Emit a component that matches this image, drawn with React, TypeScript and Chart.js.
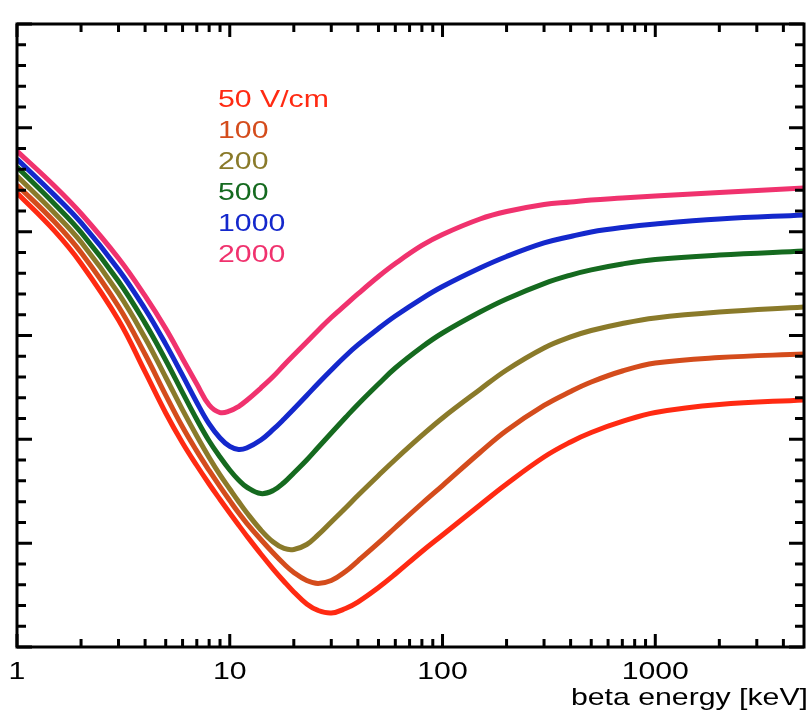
import { useEffect, useRef } from 'react';
import { Chart, registerables } from 'chart.js';

Chart.register(...registerables);

// beta energy [keV]
const energies = [1, 1.5, 2, 3, 4, 5, 6, 7, 8, 9, 10, 11, 12, 14, 16, 18, 20, 23, 26, 30, 35, 40, 50, 60, 80, 100, 150, 200, 300, 400, 500, 700, 1000, 2000, 5000];

// response (arbitrary units, no y labels on the original)
const field50 = [4.373, 4.007, 3.694, 3.149, 2.649, 2.254, 1.965, 1.748, 1.570, 1.421, 1.291, 1.175, 1.072, 0.896, 0.751, 0.631, 0.530, 0.414, 0.352, 0.327, 0.371, 0.433, 0.573, 0.703, 0.920, 1.079, 1.368, 1.570, 1.830, 1.975, 2.066, 2.172, 2.259, 2.336, 2.379];
const field100 = [4.450, 4.095, 3.799, 3.279, 2.819, 2.426, 2.118, 1.886, 1.700, 1.544, 1.410, 1.292, 1.194, 1.035, 0.905, 0.799, 0.718, 0.640, 0.612, 0.640, 0.727, 0.828, 1.002, 1.151, 1.382, 1.555, 1.873, 2.085, 2.326, 2.461, 2.552, 2.658, 2.735, 2.788, 2.822];
const field200 = [4.536, 4.180, 3.900, 3.405, 2.976, 2.598, 2.283, 2.032, 1.825, 1.657, 1.522, 1.401, 1.295, 1.127, 1.011, 0.949, 0.939, 0.987, 1.079, 1.204, 1.339, 1.459, 1.652, 1.806, 2.037, 2.206, 2.480, 2.668, 2.880, 2.986, 3.048, 3.116, 3.169, 3.226, 3.275];
const field500 = [4.623, 4.267, 3.993, 3.523, 3.119, 2.762, 2.450, 2.191, 1.984, 1.830, 1.705, 1.608, 1.541, 1.478, 1.507, 1.584, 1.676, 1.801, 1.921, 2.061, 2.210, 2.336, 2.533, 2.687, 2.889, 3.024, 3.226, 3.352, 3.500, 3.582, 3.632, 3.689, 3.732, 3.775, 3.814];
const field1000 = [4.700, 4.352, 4.086, 3.636, 3.255, 2.917, 2.616, 2.355, 2.148, 2.013, 1.931, 1.902, 1.917, 1.994, 2.095, 2.196, 2.292, 2.422, 2.538, 2.668, 2.803, 2.909, 3.068, 3.188, 3.356, 3.472, 3.650, 3.761, 3.891, 3.954, 3.997, 4.040, 4.074, 4.122, 4.161];
const field2000 = [4.777, 4.440, 4.175, 3.744, 3.381, 3.066, 2.777, 2.533, 2.331, 2.258, 2.273, 2.316, 2.374, 2.494, 2.605, 2.716, 2.812, 2.937, 3.048, 3.173, 3.294, 3.400, 3.568, 3.693, 3.867, 3.973, 4.122, 4.194, 4.262, 4.286, 4.305, 4.324, 4.344, 4.377, 4.421];

const seriesLabels = ['50 V/cm', '100', '200', '500', '1000', '2000'];
const seriesValues = [field50, field100, field200, field500, field1000, field2000];
const seriesColors = ['#ff2a12', '#d44c1c', '#8a7a2a', '#156a1f', '#1428cc', '#f0326e'];

const xMajorTicks = [1, 10, 100, 1000];
const xTickLabels = ['1', '10', '100', '1000'];
const xMinorTicks = [2, 3, 4, 5, 6, 7, 8, 9, 20, 30, 40, 50, 60, 70, 80, 90, 200, 300, 400, 500, 600, 700, 800, 900, 2000, 3000, 4000];
const yMajorTicks = [0, 1, 2, 3, 4, 5, 6];
const xTitle = 'beta energy [keV]';

const FONT = '24px "Liberation Sans", Arial, sans-serif';
const STRETCH = 1.26;

function stretchedText(ctx: CanvasRenderingContext2D, text: string, x: number, y: number, align: CanvasTextAlign, color: string) {
  ctx.save();
  ctx.translate(x, y);
  ctx.scale(STRETCH, 1);
  ctx.font = FONT;
  ctx.textAlign = align;
  ctx.textBaseline = 'alphabetic';
  ctx.fillStyle = color;
  ctx.fillText(text, 0, 0);
  ctx.restore();
}

const framePlugin = {
  id: 'frameTicksText',
  afterDatasetsDraw(chart: any) {
    const ctx: CanvasRenderingContext2D = chart.ctx;
    const { left, right, top, bottom } = chart.chartArea;
    const xs = chart.scales.x;
    const ys = chart.scales.y;
    ctx.save();
    ctx.strokeStyle = '#000';
    ctx.lineWidth = 3;
    ctx.lineCap = 'butt';
    ctx.beginPath();
    const xTick = (v: number, len: number) => {
      const px = xs.getPixelForValue(v);
      ctx.moveTo(px, bottom);
      ctx.lineTo(px, bottom - len);
      ctx.moveTo(px, top);
      ctx.lineTo(px, top + len);
    };
    xMajorTicks.forEach((v) => xTick(v, 13));
    xMinorTicks.forEach((v) => xTick(v, 8));
    const yMin = ys.min, yMax = ys.max;
    for (let i = 0; i <= Math.round((yMax - yMin) * 5); i++) {
      const v = yMin + i * 0.2;
      const major = yMajorTicks.some((m) => Math.abs(m - v) < 1e-6);
      const len = major ? 15 : 9;
      const py = ys.getPixelForValue(v);
      ctx.moveTo(left, py);
      ctx.lineTo(left + len, py);
      ctx.moveTo(right, py);
      ctx.lineTo(right - len, py);
    }
    ctx.stroke();
    ctx.strokeRect(left, top, right - left, bottom - top);

    xMajorTicks.forEach((v, i) => {
      stretchedText(ctx, xTickLabels[i], xs.getPixelForValue(v), bottom + 32, 'center', '#000');
    });
    stretchedText(ctx, xTitle, right + 4, bottom + 58, 'right', '#000');

    seriesLabels.forEach((lab, i) => {
      stretchedText(ctx, lab, left + 201, top + 83 + i * 31, 'left', seriesColors[i]);
    });
    ctx.restore();
  },
};

export default function App() {
  const ref = useRef<HTMLCanvasElement | null>(null);
  useEffect(() => {
    if (!ref.current) return;
    const datasets = seriesValues.map((vals, i) => ({
      label: seriesLabels[i],
      data: energies.map((e, j) => ({ x: e, y: vals[j] })),
      borderColor: seriesColors[i],
      backgroundColor: seriesColors[i],
      borderWidth: 5,
      pointRadius: 0,
      fill: false,
      tension: 0.4,
      order: 6 - i,
    }));
    const chart = new Chart(ref.current, {
      type: 'line',
      data: { datasets },
      options: {
        animation: false,
        responsive: true,
        maintainAspectRatio: false,
        layout: { padding: { left: 17, top: 24, right: 7, bottom: 68 } },
        plugins: { legend: { display: false }, tooltip: { enabled: false } },
        scales: {
          x: { type: 'logarithmic', min: 1, max: 5000, display: false },
          y: { type: 'linear', min: 0, max: 6, display: false },
        },
      },
      plugins: [framePlugin],
    });
    return () => chart.destroy();
  }, []);
  return (
    <div style={{ position: 'fixed', left: 0, top: 0, width: 811, height: 715, background: '#fff' }}>
      <canvas ref={ref} />
    </div>
  );
}
